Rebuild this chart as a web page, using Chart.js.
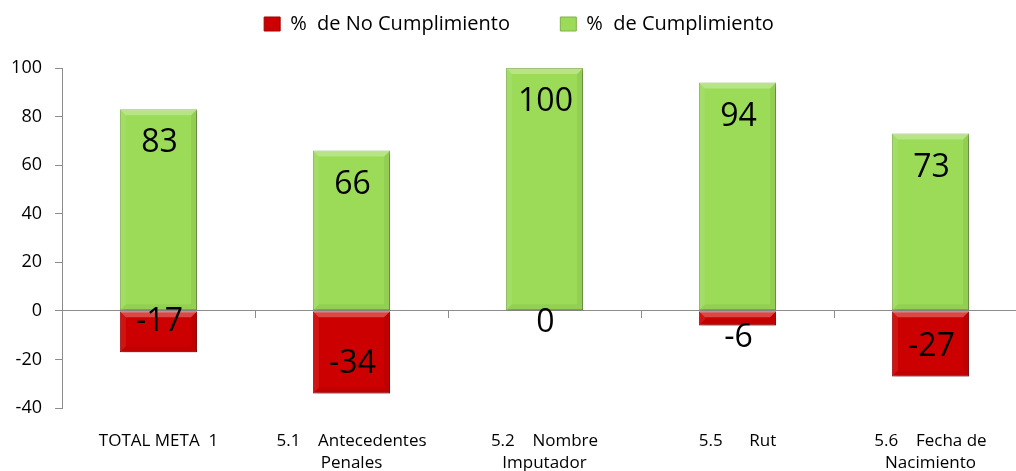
<!DOCTYPE html>
<html>
<head>
<meta charset="utf-8">
<script src="https://cdn.jsdelivr.net/npm/chart.js@4"></script>
<style>
    html, body { margin: 0; padding: 0; background: #fff; overflow: hidden; }
    .chartwrap { width: 1016px; height: 471px; overflow: hidden; }
    .chartbox { width: 1062px; height: 471px; }
</style>
</head>
<body>
<div class="chartwrap">
    <div class="chartbox"><canvas id="myChart" width="1062" height="471"></canvas></div>
</div>
<script>
var categories = [
    'TOTAL META  1',
    ['5.1    Antecedentes', 'Penales'],
    ['5.2    Nombre', 'Imputador'],
    '5.5      Rut',
    ['5.6    Fecha de', 'Nacimiento']
];
var noCumplimiento = [-17, -34, 0, -6, -27];
var cumplimiento = [83, 66, 100, 94, 73];
var yTicks = { min: -40, max: 100, step: 20 };

var FONT = "'Open Sans', 'Noto Sans', sans-serif";

// more room under the legend
var legendGap = {
    id: 'legendGap',
    beforeInit: function (chart) {
        var fit = chart.legend.fit;
        chart.legend.fit = function () {
            fit.bind(chart.legend)();
            this.height += 24;
        };
    }
};

// value labels, placed like excel "inside end"
var valueLabels = {
    id: 'valueLabels',
    afterDatasetsDraw: function (chart) {
        var ctx = chart.ctx;
        ctx.save();
        ctx.font = '32px ' + FONT;
        ctx.fillStyle = '#000';
        ctx.textAlign = 'center';
        ctx.textBaseline = 'middle';
        chart.data.datasets.forEach(function (dataset, di) {
            chart.getDatasetMeta(di).data.forEach(function (bar, i) {
                var v = dataset.data[i];
                var len = Math.abs(bar.base - bar.y);
                var ly;
                if (v > 0) {
                    ly = len > 40 ? bar.y + 34 : bar.y - 14;
                } else {
                    ly = len > 36 ? bar.y - 30 : bar.y + 12;
                }
                ctx.fillText(String(v), bar.x + 1, ly);
            });
        });
        ctx.restore();
    }
};

// soft shadow + bevel look on the bars
var bevel = {
    id: 'bevel',
    beforeDatasetsDraw: function (chart) {
        var ctx = chart.ctx;
        ctx.save();
        ctx.shadowColor = 'rgba(0,0,0,0.3)';
        ctx.shadowBlur = 4;
        ctx.shadowOffsetX = 2;
        ctx.shadowOffsetY = 2;
    },
    afterDatasetsDraw: function (chart) {
        var ctx = chart.ctx;
        ctx.restore();
        ctx.save();
        chart.data.datasets.forEach(function (dataset, di) {
            chart.getDatasetMeta(di).data.forEach(function (bar) {
                var top = Math.min(bar.y, bar.base);
                var bottom = Math.max(bar.y, bar.base);
                var h = bottom - top;
                if (h < 2) return;
                var l = bar.x - bar.width / 2;
                var r = bar.x + bar.width / 2;
                var b = Math.min(6, h / 2);
                ctx.fillStyle = 'rgba(255,255,255,0.28)';
                ctx.beginPath();
                ctx.moveTo(l, top); ctx.lineTo(r, top); ctx.lineTo(r - b, top + b); ctx.lineTo(l + b, top + b);
                ctx.closePath(); ctx.fill();
                ctx.fillStyle = 'rgba(255,255,255,0.08)';
                ctx.beginPath();
                ctx.moveTo(l, top); ctx.lineTo(l + b, top + b); ctx.lineTo(l + b, bottom - b); ctx.lineTo(l, bottom);
                ctx.closePath(); ctx.fill();
                ctx.fillStyle = 'rgba(0,0,0,0.06)';
                ctx.beginPath();
                ctx.moveTo(r, top); ctx.lineTo(r - b, top + b); ctx.lineTo(r - b, bottom - b); ctx.lineTo(r, bottom);
                ctx.closePath(); ctx.fill();
                ctx.fillStyle = 'rgba(0,0,0,0.05)';
                ctx.beginPath();
                ctx.moveTo(l, bottom); ctx.lineTo(r, bottom); ctx.lineTo(r - b, bottom - b); ctx.lineTo(l + b, bottom - b);
                ctx.closePath(); ctx.fill();
            });
        });
        ctx.restore();
    }
};

var ctx = document.getElementById('myChart').getContext('2d');
var myChart = new Chart(ctx, {
    type: 'bar',
    data: {
        labels: categories,
        datasets: [{
            label: '%  de No Cumplimiento       ',
            data: noCumplimiento,
            backgroundColor: '#CC0000',
            borderColor: '#A00000',
            borderWidth: 1,
            borderSkipped: false
        }, {
            label: '%  de Cumplimiento',
            data: cumplimiento,
            backgroundColor: '#9BDB58',
            borderColor: '#80B04A',
            borderWidth: 1,
            borderSkipped: false
        }]
    },
    options: {
        responsive: false,
        animation: false,
        barPercentage: 0.4,
        categoryPercentage: 1,
        layout: {
            padding: { top: 0, right: 35, bottom: 0, left: 11 }
        },
        plugins: {
            legend: {
                position: 'top',
                labels: {
                    font: { family: FONT, size: 20 },
                    color: '#000',
                    boxWidth: 16,
                    boxHeight: 14,
                    padding: 14
                }
            },
            tooltip: { enabled: false }
        },
        scales: {
            x: {
                stacked: true,
                position: { y: 0 },
                afterFit: function (scale) { scale.height = 0; },
                ticks: { display: false },
                grid: {
                    offset: true,
                    drawOnChartArea: false,
                    tickLength: 7,
                    color: '#8c8c8c'
                },
                border: { color: '#8c8c8c', width: 1 }
            },
            x2: {
                type: 'category',
                labels: categories,
                offset: true,
                position: 'bottom',
                afterFit: function (scale) { scale.height = 63; },
                grid: { display: false, drawTicks: false },
                border: { display: false },
                ticks: {
                    maxRotation: 0,
                    autoSkip: false,
                    padding: 22,
                    color: '#000',
                    font: { family: FONT, size: 17, lineHeight: 1.3 }
                }
            },
            y: {
                stacked: true,
                min: yTicks.min,
                max: yTicks.max,
                afterFit: function (scale) { scale.width = 51; },
                ticks: {
                    stepSize: yTicks.step,
                    padding: 13,
                    color: '#000',
                    font: { family: FONT, size: 18 }
                },
                grid: {
                    drawOnChartArea: false,
                    tickLength: 7,
                    color: '#8c8c8c'
                },
                border: { color: '#8c8c8c', width: 1 }
            }
        }
    },
    plugins: [legendGap, bevel, valueLabels]
});
</script>
</body>
</html>
